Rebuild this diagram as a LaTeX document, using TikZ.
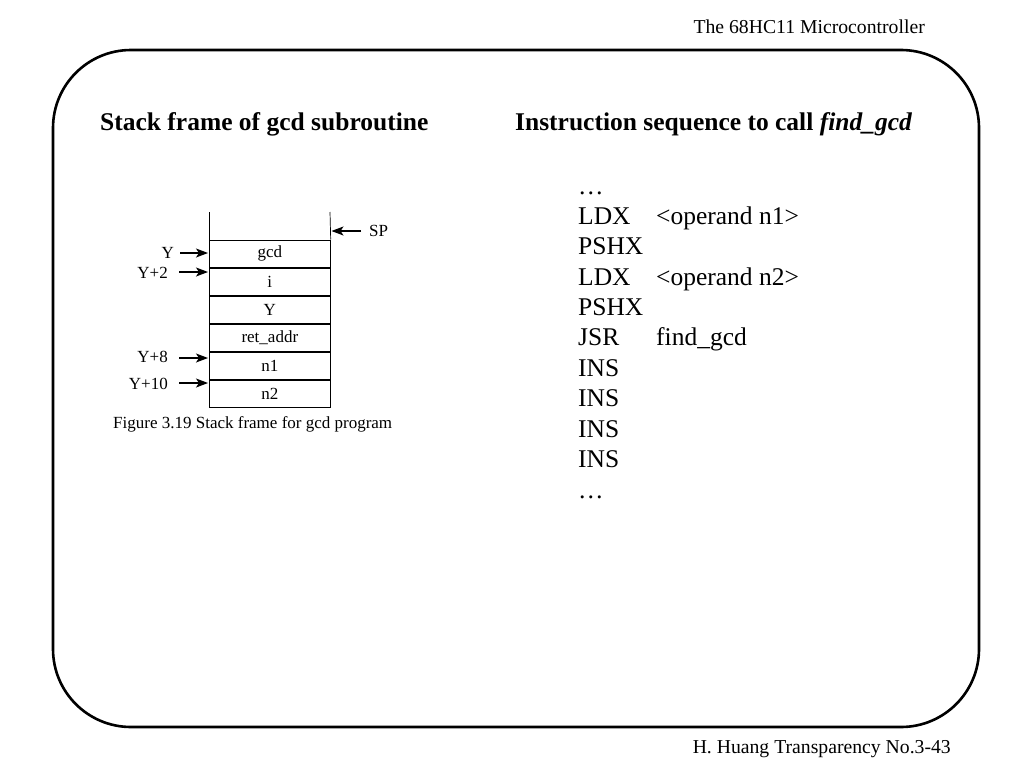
\documentclass[tikz,border=0pt]{standalone}
\usepackage{fontspec}
\setmainfont{Liberation Serif}
\usetikzlibrary{arrows.meta}
\begin{document}
\begin{tikzpicture}[x=1pt,y=-1pt,
  frame/.style={line width=2.6pt,rounded corners=78pt},
  cell/.style={draw,line width=0.7pt,minimum width=121pt,minimum height=27.3pt,inner sep=0pt,anchor=north west,font=\fontsize{17}{18}\selectfont},
  lbl/.style={font=\fontsize{17}{18}\selectfont,inner sep=0pt},
  ptr/.style={-{Stealth[length=12pt,width=9pt,inset=3pt]},line width=1.1pt},
  code/.style={font=\fontsize{25.5}{28}\selectfont,anchor=base west,inner sep=0pt},
  ttl/.style={font=\fontsize{25.5}{28}\selectfont\bfseries,anchor=base west,inner sep=0pt},
  small/.style={font=\fontsize{19.7}{22}\selectfont,anchor=base east,inner sep=0pt}]
\useasboundingbox (0,0) rectangle (1024,768);
\node[small] (hdr) at (925,34) {The 68HC11 Microcontroller};
\node[small] (ftr) at (951,753) {H. Huang Transparency No.3-43};
\draw[frame] (53,50) rectangle (979,727);
\node[ttl] (t1) at (100,130) {Stack frame of gcd subroutine};
\node[ttl] (t2) at (515,130) {Instruction sequence to call \textit{find\_gcd}};
% stack
\coordinate (tl) at (209,212);
\coordinate (tr) at (330,212);
\node[cell] (c1) at (209,239.5) {gcd};
\node[cell,anchor=north] (c2) at (c1.south) {i};
\node[cell,anchor=north] (c3) at (c2.south) {Y};
\node[cell,anchor=north] (c4) at (c3.south) {ret\_addr};
\node[cell,anchor=north] (c5) at (c4.south) {n1};
\node[cell,anchor=north] (c6) at (c5.south) {n2};
\draw[line width=0.7pt] (tl) -- (c1.north west);
\draw[line width=0.7pt] (tr) -- (c1.north east);
\node[lbl,anchor=base west] (sp) at (369,236) {SP};
\coordinate (sps) at (361,231);
\coordinate (spt) at (331.5,231);
\draw[ptr] (sps) -- (spt);
\node[lbl,anchor=base east] (ly) at (174,258) {Y};
\node[lbl,anchor=base east] (ly2) at (168,278) {Y+2};
\node[lbl,anchor=base east] (ly8) at (168,362) {Y+8};
\node[lbl,anchor=base east] (ly10) at (168,389) {Y+10};
\coordinate (sy) at (180,253);
\coordinate (sy2) at (179,272);
\coordinate (sy8) at (179,358);
\coordinate (sy10) at (179,383);
\coordinate (py) at (208,253);
\coordinate (py2) at (208,272);
\coordinate (py8) at (208,358);
\coordinate (py10) at (208,383);
\draw[ptr] (sy) -- (py);
\draw[ptr] (sy2) -- (py2);
\draw[ptr] (sy8) -- (py8);
\draw[ptr] (sy10) -- (py10);
\node[lbl,anchor=base west] (cap) at (113,428) {Figure 3.19 Stack frame for gcd program};
% code
\node[code] (l0) at (578,194) {\dots};
\node[code] (l1) at (578,224) {LDX};
\node[code] (a1) at (656,224) {<operand n1>};
\node[code] (l2) at (578,254) {PSHX};
\node[code] (l3) at (578,285) {LDX};
\node[code] (a3) at (656,285) {<operand n2>};
\node[code] (l4) at (578,315) {PSHX};
\node[code] (l5) at (578,345) {JSR};
\node[code] (a5) at (656,345) {find\_gcd};
\node[code] (l6) at (578,376) {INS};
\node[code] (l7) at (578,406) {INS};
\node[code] (l8) at (578,437) {INS};
\node[code] (l9) at (578,467) {INS};
\node[code] (l10) at (578,498) {\dots};
\end{tikzpicture}
\end{document}
